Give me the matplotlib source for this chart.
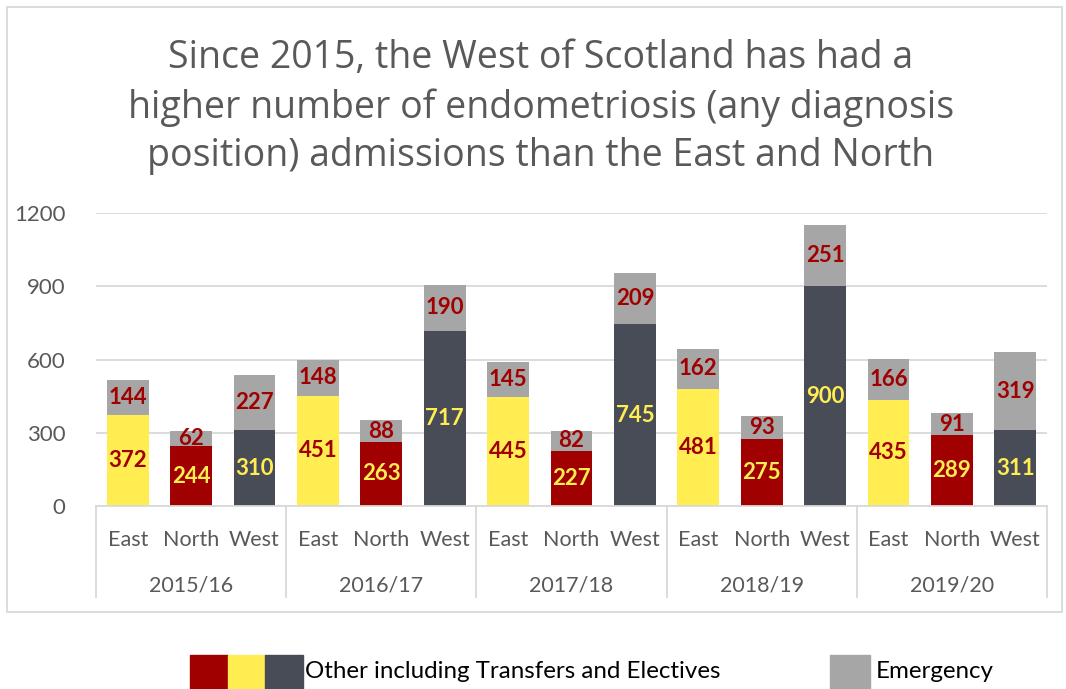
import matplotlib.pyplot as plt
from matplotlib.patches import Rectangle
from matplotlib.transforms import blended_transform_factory
import numpy as np

years = ['2015/16', '2016/17', '2017/18', '2018/19', '2019/20']
regions = ['East', 'North', 'West']

# Other (incl. transfers and electives) admissions
east_other = [372, 451, 445, 481, 435]
north_other = [244, 263, 227, 275, 289]
west_other = [310, 717, 745, 900, 311]

# Emergency admissions
east_emerg = [144, 148, 145, 162, 166]
north_emerg = [62, 88, 82, 93, 91]
west_emerg = [227, 190, 209, 251, 319]

RED = '#A00000'
YELLOW = '#FFED52'
DARK = '#474C57'
GREY = '#A6A6A6'
TXT = '#595959'
LINE = '#D9D9D9'

other = [east_other, north_other, west_other]
emerg = [east_emerg, north_emerg, west_emerg]
base_col = [YELLOW, RED, DARK]
base_lab = [RED, YELLOW, YELLOW]

W, H = 1066, 689
fig = plt.figure(figsize=(W / 100, H / 100), dpi=100)
ax = fig.add_axes([96 / W, 1 - 506 / H, (1047 - 96) / W, 293 / H])

for r in range(3):
    x = np.arange(len(years)) * 3 + r
    ax.bar(x, other[r], width=0.66, color=base_col[r], zorder=2)
    ax.bar(x, emerg[r], bottom=other[r], width=0.66, color=GREY, zorder=2)
    for xi, o, e in zip(x, other[r], emerg[r]):
        ax.text(xi, o / 2, str(o), ha='center', va='center', color=base_lab[r],
                fontsize=16, fontweight='bold', family='Lato', zorder=3)
        ax.text(xi, o + e / 2, str(e), ha='center', va='center', color=RED,
                fontsize=16, fontweight='bold', family='Lato', zorder=3)

ax.set_xlim(-0.5, 14.5)
ax.set_ylim(0, 1200)
ax.set_yticks([0, 300, 600, 900, 1200])
ax.yaxis.grid(True, color=LINE, linewidth=1.3, zorder=0)
ax.tick_params(axis='y', length=0, pad=22, labelsize=16, labelcolor=TXT)
for lab in ax.get_yticklabels():
    lab.set_family('Lato')

ax.set_xticks(np.arange(15))
ax.set_xticklabels(regions * 5, family='Lato', fontsize=15.5, color=TXT)
ax.tick_params(axis='x', length=0, pad=17)

for s in ['top', 'right', 'left']:
    ax.spines[s].set_visible(False)
ax.spines['bottom'].set_color(LINE)
ax.spines['bottom'].set_linewidth(1.3)

# group separators and year labels under the region labels
trans = blended_transform_factory(ax.transData, ax.transAxes)
bounds = np.arange(0, 16)[::3] - 0.5
ax.vlines(bounds, -92 / 293, 0, transform=trans, color=LINE, linewidth=1.3, clip_on=False)
for g, yr in enumerate(years):
    ax.text(g * 3 + 1, -79 / 293, yr, transform=trans, ha='center', va='center',
            family='Lato', fontsize=15.5, color=TXT)

fig.text(541 / W, 1 - 39 / H,
         'Since 2015, the West of Scotland has had a\n'
         'higher number of endometriosis (any diagnosis\n'
         'position) admissions than the East and North',
         ha='center', va='top', fontsize=27, color=TXT, family='Open Sans',
         linespacing=1.37)

# outer chart border
fig.add_artist(Rectangle((7 / W, 1 - 612 / H), (1062 - 7) / W, (612 - 7) / H,
                         transform=fig.transFigure, fill=False, edgecolor=LINE, linewidth=1.3))

# legend swatches
for i, c in enumerate([RED, YELLOW, DARK]):
    fig.add_artist(Rectangle(((190 + i * 37.7) / W, 0), 37.7 / W, 34 / H,
                             transform=fig.transFigure, color=c))
fig.text(305 / W, 1 - 672 / H, 'Other including Transfers and Electives', ha='left', va='center',
         fontsize=17.4, family='Lato', color='black')
fig.add_artist(Rectangle((830 / W, 0), 40 / W, 34 / H, transform=fig.transFigure, color=GREY))
fig.text(876 / W, 1 - 672 / H, 'Emergency', ha='left', va='center',
         fontsize=17.4, family='Lato', color='black')

fig.savefig('out.png', dpi=100)
